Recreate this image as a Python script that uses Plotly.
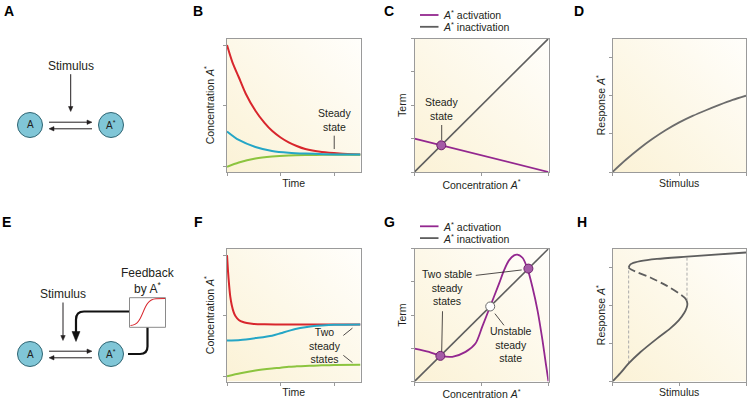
import base64
import math
import plotly.graph_objects as go

W, H = 748, 402
FONT = "Liberation Sans, Arial, Helvetica, sans-serif"
TXT = "#231f20"

# ---------------- data ----------------
# B: time courses approaching a single steady state
time_B_red = [0, 0.1, 0.22, 0.35, 0.53, 0.7, 0.84, 1.0, 1.15, 1.3, 1.46, 1.77, 2.1, 2.49]
red_B = [2.0, 1.72, 1.47, 1.2, 0.92, 0.72, 0.59, 0.48, 0.40, 0.34, 0.29, 0.24, 0.215, 0.2]
time_B = [0, 0.22, 0.53, 0.84, 1.15, 1.46, 1.8, 2.49]
cyan_B = [0.58, 0.44, 0.325, 0.26, 0.23, 0.215, 0.205, 0.2]
green_B = [0, 0.07, 0.135, 0.168, 0.185, 0.192, 0.195, 0.195]

# F: time courses with feedback (two steady states)
time_F_red = [0, 0.02, 0.04, 0.062, 0.09, 0.124, 0.16, 0.22, 0.3, 0.37, 0.5, 0.7, 1.0, 2.49]
red_F = [2.0, 1.72, 1.5, 1.31, 1.17, 1.06, 0.99, 0.93, 0.895, 0.88, 0.865, 0.858, 0.855, 0.855]
time_F = [0, 0.25, 0.53, 0.84, 1.0, 1.15, 1.3, 1.46, 1.62, 1.77, 2.0, 2.49]
cyan_F = [0.59, 0.6, 0.63, 0.67, 0.71, 0.75, 0.785, 0.81, 0.83, 0.84, 0.85, 0.855]
green_F = [0, 0.05, 0.094, 0.127, 0.14, 0.155, 0.163, 0.17, 0.175, 0.18, 0.185, 0.19]

# C: rate terms without feedback
conc_C = [0, 1]
activation_C = [0.25, 0.0]
inactivation_C = [0, 1]
steady_C = [0.2]

# G: rate terms with feedback
conc_G = [0, 0.108, 0.195, 0.282, 0.381, 0.455, 0.505, 0.563, 0.631, 0.668, 0.705,
          0.743, 0.768, 0.806, 0.843, 0.880, 0.918, 0.955, 0.980, 1.0]
activation_G = [0.248, 0.223, 0.193, 0.186, 0.223, 0.286, 0.411, 0.561, 0.737, 0.837, 0.912,
                0.950, 0.955, 0.932, 0.850, 0.712, 0.536, 0.311, 0.135, 0.0]
inactivation_G = [0, 1]
stable_G = [0.193, 0.85]
unstable_G = [0.565]

# D: graded dose-response
stim_D = [0, 0.1, 0.2, 0.3, 0.4, 0.5, 0.6, 0.7, 0.8, 0.9, 1.0]
resp_D = [0, 0.32, 0.61, 0.87, 1.1, 1.3, 1.47, 1.62, 1.76, 1.89, 2.0]

# H: bistable (hysteretic) dose-response
stim_low = [0, 0.059, 0.121, 0.208, 0.333, 0.433, 0.496, 0.538, 0.556, 0.561, 0.556]
resp_low = [0, 0.22, 0.475, 0.77, 1.13, 1.40, 1.61, 1.81, 1.95, 2.04, 2.13]
stim_mid = [0.556, 0.54, 0.508, 0.408, 0.283, 0.184, 0.14, 0.121]
resp_mid = [2.13, 2.21, 2.30, 2.52, 2.74, 2.88, 2.95, 3.0]
stim_high = [0.121, 0.13, 0.146, 0.208, 0.333, 0.558, 1.0]
resp_high = [3.0, 3.07, 3.11, 3.17, 3.23, 3.29, 3.40]
switch_stim = [0.121, 0.558]
switch_from = [0.475, 2.13]
switch_to = [3.0, 3.29]

legend_labels = ["<i>A</i><sup>*</sup> activation", "<i>A</i><sup>*</sup> inactivation"]

RED, CYAN, GREEN = "#d8262d", "#25a6c6", "#8cc43f"
PURPLE, GRAY = "#93278f", "#5e5e5e"

# ---------------- helpers ----------------
def PX(x):
    return x / W


def PY(y):
    return 1 - y / H


def P(x, y):
    return f"{PX(x):.5f},{PY(y):.5f}"


fig = go.Figure()


def line(x, y, ax, color, width=2.0, dash=None, name=None):
    fig.add_trace(go.Scatter(
        x=x, y=y, xaxis=ax[0], yaxis=ax[1], mode="lines",
        line=dict(color=color, width=width, shape="spline", smoothing=0.8, dash=dash),
        name=name, showlegend=False, hoverinfo="skip"))


# panel axes: (xaxis id, yaxis id, left, right, top, bottom) in pixels
panels = {
    "B": ("x", "y", 227, 360.5, 38.5, 172),
    "C": ("x2", "y2", 414.5, 548.5, 38.5, 172),
    "D": ("x3", "y3", 612.5, 746, 38.5, 172),
    "F": ("x4", "y4", 227, 360.5, 248.7, 381.5),
    "G": ("x5", "y5", 414.5, 548.5, 248.7, 381.5),
    "H": ("x6", "y6", 612.5, 746, 248.7, 381.5),
}

# B
line(time_B_red, red_B, ("x", "y"), RED, name="B high start")
line(time_B, green_B, ("x", "y"), GREEN, name="B low start")
line(time_B, cyan_B, ("x", "y"), CYAN, name="B mid start")
# F
line(time_F_red, red_F, ("x4", "y4"), RED, name="F high start")
line(time_F, green_F, ("x4", "y4"), GREEN, name="F low start")
line(time_F, cyan_F, ("x4", "y4"), CYAN, name="F mid start")

# C
line(conc_C, activation_C, ("x2", "y2"), PURPLE, 1.8, name=legend_labels[0])
line(conc_C, inactivation_C, ("x2", "y2"), GRAY, 1.6, name=legend_labels[1])
fig.add_trace(go.Scatter(x=steady_C, y=steady_C, xaxis="x2", yaxis="y2", mode="markers",
                         marker=dict(size=9, color="#a45ba6", line=dict(color="#6f1f6c", width=1)),
                         showlegend=False, hoverinfo="skip"))
# G
line(conc_G, activation_G, ("x5", "y5"), PURPLE, 1.8, name=legend_labels[0])
line(inactivation_G, inactivation_G, ("x5", "y5"), GRAY, 1.6, name=legend_labels[1])
fig.add_trace(go.Scatter(x=stable_G, y=stable_G, xaxis="x5", yaxis="y5", mode="markers",
                         marker=dict(size=9, color="#a45ba6", line=dict(color="#6f1f6c", width=1)),
                         showlegend=False, hoverinfo="skip"))
fig.add_trace(go.Scatter(x=unstable_G, y=unstable_G, xaxis="x5", yaxis="y5", mode="markers",
                         marker=dict(size=9, color="white", line=dict(color="#6a6a6a", width=1)),
                         showlegend=False, hoverinfo="skip"))

# D
line(stim_D, resp_D, ("x3", "y3"), "#6c6c6c", 1.8)

# H
gx, gy = [], []
for s, a, b in zip(switch_stim, switch_from, switch_to):
    gx += [s, s, None]
    gy += [a, b, None]
fig.add_trace(go.Scatter(x=gx, y=gy, xaxis="x6", yaxis="y6", mode="lines",
                         line=dict(color="#ababab", width=1, dash="3px,2px"),
                         showlegend=False, hoverinfo="skip"))
line(stim_low, resp_low, ("x6", "y6"), GRAY, 1.8)
line(stim_mid, resp_mid, ("x6", "y6"), GRAY, 1.8, dash="8px,4px")
line(stim_high, resp_high, ("x6", "y6"), GRAY, 1.8)

# ---------------- axes ----------------
common = dict(showline=True, linecolor="#9a9a9a", linewidth=1, mirror=True,
              ticks="outside", ticklen=3, tickcolor="#9a9a9a", tickwidth=1,
              showticklabels=False, showgrid=False, zeroline=False, fixedrange=True)
tfont = dict(family=FONT, size=10.5, color=TXT)
conc = "Concentration <i>A</i><sup>*</sup>"
resp = "Response <i>A</i><sup>*</sup>"
spec = {
    "B": ([0, 2.49], [0, 1, 2], [-0.087, 2.107], [0, 1, 2], "Time", 4, conc, 6),
    "F": ([0, 2.49], [0, 1, 2], [-0.087, 2.107], [0, 1, 2], "Time", 4, conc, 6),
    "C": ([0, 1], [0, 0.5, 1], [0, 1], [0, 0.25, 0.5, 0.75, 1], conc, 6, "Term", 1),
    "G": ([0, 1], [0, 0.5, 1], [0, 1], [0, 0.25, 0.5, 0.75, 1], conc, 6, "Term", 1),
    "D": ([0, 1], [0, 0.5, 1], [0, 3.5], [0, 1, 2, 3], "Stimulus", 4, resp, 0),
    "H": ([0, 1], [0, 0.5, 1], [0, 3.5], [0, 1, 2, 3], "Stimulus", 4, resp, 0),
}
layout_axes = {}
for key, (xa, ya, l, r, t, b) in panels.items():
    xr, xt, yr, yt, xtitle, xs, ytitle, ys = spec[key]
    xname = "xaxis" if xa == "x" else "xaxis" + xa[1:]
    yname = "yaxis" if ya == "y" else "yaxis" + ya[1:]
    layout_axes[xname] = dict(common, domain=[l / W, r / W], anchor=ya, range=xr,
                              tickvals=xt, title=dict(text=xtitle, font=tfont, standoff=xs))
    layout_axes[yname] = dict(common, domain=[1 - b / H, 1 - t / H], anchor=xa, range=yr,
                              tickvals=yt, title=dict(text=ytitle, font=tfont, standoff=ys))

# gradient backgrounds behind the plot areas
svg = ('<svg xmlns="http://www.w3.org/2000/svg" width="100" height="100">'
       '<defs><linearGradient id="g" x1="0" y1="1" x2="1" y2="0">'
       '<stop offset="0" stop-color="#fbf2d6"/><stop offset="1" stop-color="#fffefb"/>'
       '</linearGradient></defs><rect width="100" height="100" fill="url(#g)"/></svg>')
src = "data:image/svg+xml;base64," + base64.b64encode(svg.encode()).decode()
images = []
for key, (xa, ya, l, r, t, b) in panels.items():
    images.append(dict(source=src, xref="paper", yref="paper", x=l / W, y=1 - t / H,
                       sizex=(r - l) / W, sizey=(b - t) / H, xanchor="left", yanchor="top",
                       sizing="stretch", layer="below"))

# ---------------- annotations & shapes ----------------
ann = []
shapes = []
sfont = dict(family=FONT, size=10.5, color=TXT)
dfont = dict(family=FONT, size=12, color=TXT)


def note(text, x, y, xa, ya, font=sfont):
    ann.append(dict(text=text, x=x, y=y, xref=xa, yref=ya, showarrow=False,
                    xanchor="center", yanchor="middle", align="center", font=font))


note("Steady<br>state", 2.0, 0.76, "x", "y")
note("Steady<br>state", 0.203, 0.47, "x2", "y2")
note("Two<br>steady<br>states", 1.83, 0.50, "x4", "y4")
note("Two stable<br>steady<br>states", 0.245, 0.705, "x5", "y5")
note("Unstable<br>steady<br>state", 0.718, 0.278, "x5", "y5")

# panel letters
for letter, x, y in [("A", 1.5, 10.5), ("B", 191, 10.5), ("C", 381.5, 10.5), ("D", 571.5, 10.5),
                     ("E", 0, 221.5), ("F", 191.5, 221.5), ("G", 381.5, 221.5), ("H", 574.5, 222.5)]:
    ann.append(dict(text=f"<b>{letter}</b>", x=PX(x), y=PY(y), xref="paper", yref="paper",
                    showarrow=False, xanchor="left", yanchor="middle",
                    font=dict(family=FONT, size=14, color="#000")))


def ptext(text, x, y, font=dfont, anchor="center"):
    ann.append(dict(text=text, x=PX(x), y=PY(y), xref="paper", yref="paper", showarrow=False,
                    xanchor=anchor, yanchor="middle", align=anchor, font=font))


def arrow(x0, y0, x1, y1, width=1.0, L=5.0, hw=2.2, color=TXT):
    d = math.hypot(x1 - x0, y1 - y0)
    ux, uy = (x1 - x0) / d, (y1 - y0) / d
    bx, by = x1 - L * ux, y1 - L * uy
    shapes.append(dict(type="line", xref="paper", yref="paper",
                       x0=PX(x0), y0=PY(y0), x1=PX(x1 - (L - 1) * ux), y1=PY(y1 - (L - 1) * uy),
                       line=dict(color=color, width=width)))
    shapes.append(dict(type="path", xref="paper", yref="paper",
                       path=f"M {P(x1, y1)} L {P(bx - hw * uy, by + hw * ux)} L {P(bx + hw * uy, by - hw * ux)} Z",
                       fillcolor=color, line=dict(color=color, width=0.5)))


# legends of panels C and G (line key + label)
for top in (15, 226.3):
    for i, (lab, col) in enumerate(zip(legend_labels, [PURPLE, GRAY])):
        yy = top + i * 11.8
        shapes.append(dict(type="line", xref="paper", yref="paper", x0=PX(420), x1=PX(438.5),
                           y0=PY(yy), y1=PY(yy), line=dict(color=col, width=1.8)))
        ptext(lab, 440.5, yy, font=sfont, anchor="left")

cfont = dict(family=FONT, size=10, color=TXT)
for cy, sy, fb in [(125, 65.7, False), (354, 294, True)]:
    for cx, label in [(30, "A"), (111, "A<sup>*</sup>")]:
        shapes.append(dict(type="circle", xref="paper", yref="paper",
                           x0=PX(cx - 12.5), x1=PX(cx + 12.5), y0=PY(cy + 12.5), y1=PY(cy - 12.5),
                           fillcolor="#80c6d7", line=dict(color="#2f6573", width=1)))
        ptext(label, cx, cy, cfont)
    arrow(49, cy - 2.8, 92, cy - 2.8)
    arrow(92, cy + 3.8, 49, cy + 3.8)
    sx = 63 if fb else 70.7
    ptext("Stimulus", sx, sy)
    arrow(sx, sy + 8.5, sx, cy - 13.5)

# feedback box and loop (panel E)
shapes.append(dict(type="path", xref="paper", yref="paper",
                   path=f"M {P(128, 354)} L {P(140, 354)} Q {P(147.5, 354)} {P(147.5, 346.5)} L {P(147.5, 327)}",
                   line=dict(color="#111", width=2.2)))
shapes.append(dict(type="path", xref="paper", yref="paper",
                   path=f"M {P(129.5, 311.5)} L {P(84, 311.5)} Q {P(76, 311.5)} {P(76, 319.5)} L {P(76, 333)}",
                   line=dict(color="#111", width=2.2)))
shapes.append(dict(type="path", xref="paper", yref="paper",
                   path=f"M {P(72, 331.5)} L {P(80, 331.5)} L {P(76, 341.5)} Z",
                   fillcolor="#111", line=dict(color="#111", width=0.5)))
shapes.append(dict(type="rect", xref="paper", yref="paper",
                   x0=PX(129.5), x1=PX(165.5), y0=PY(327.3), y1=PY(297.7),
                   fillcolor="white", line=dict(color="#8a8a8a", width=1)))
shapes.append(dict(type="path", xref="paper", yref="paper",
                   path=f"M {P(130.5, 325.5)} C {P(145, 325)} {P(141, 299.5)} {P(156, 298.8)} L {P(165, 298.5)}",
                   line=dict(color="#d8262d", width=1.1)))
ptext("Feedback<br>by A<sup>*</sup>", 147.5, 280.5)

# leader lines inside the plots
lead = dict(color=TXT, width=0.8)
for xa, ya, x0, y0, x1, y1 in [
    ("x", "y", 2.0, 0.29, 2.0, 0.51),
    ("x2", "y2", 0.203, 0.24, 0.203, 0.352),
    ("x4", "y4", 2.17, 0.674, 2.34, 0.795),
    ("x4", "y4", 2.17, 0.345, 2.34, 0.225),
    ("x5", "y5", 0.457, 0.799, 0.80, 0.84),
    ("x5", "y5", 0.209, 0.529, 0.203, 0.228),
    ("x5", "y5", 0.60, 0.511, 0.668, 0.423),
]:
    shapes.append(dict(type="line", xref=xa, yref=ya, x0=x0, y0=y0, x1=x1, y1=y1, line=lead))

fig.update_layout(
    width=W, height=H, margin=dict(l=0, r=0, t=0, b=0),
    paper_bgcolor="white", plot_bgcolor="rgba(0,0,0,0)",
    font=dict(family=FONT, color=TXT),
    showlegend=False,
    annotations=ann, shapes=shapes, images=images,
    **layout_axes,
)

fig.write_html("out.html", config={"displayModeBar": False},
               post_script="document.body.style.margin='0px';document.body.style.overflow='hidden';")
